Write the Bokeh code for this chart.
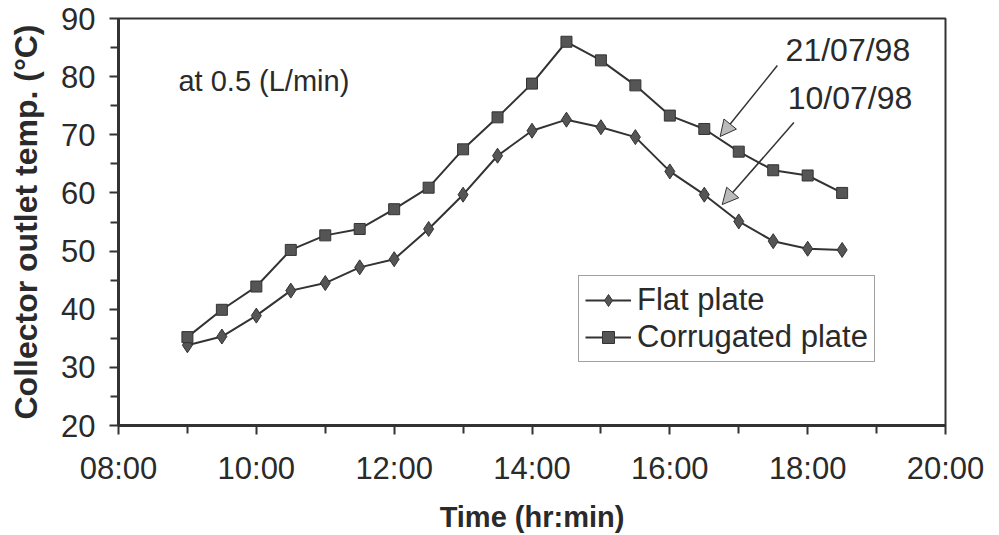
from bokeh.plotting import figure
from bokeh.models import (Range1d, FixedTicker, Legend, LegendItem, Label, Arrow,
                          NormalHead)
from bokeh.embed import file_html
from bokeh.resources import INLINE

# ---- data ----
times = [9.0, 9.5, 10.0, 10.5, 11.0, 11.5, 12.0, 12.5, 13.0, 13.5,
         14.0, 14.5, 15.0, 15.5, 16.0, 16.5, 17.0, 17.5, 18.0, 18.5]
flat_plate = [33.8, 35.3, 38.9, 43.2, 44.5, 47.2, 48.6, 53.8, 59.7, 66.4,
              70.7, 72.6, 71.3, 69.6, 63.7, 59.7, 55.1, 51.7, 50.4, 50.2]
corrugated_plate = [35.2, 39.9, 43.9, 50.2, 52.7, 53.8, 57.2, 60.9, 67.5, 73.0,
                    78.8, 86.0, 82.8, 78.5, 73.3, 71.0, 67.1, 63.9, 63.0, 60.0]
x_ticks = [8, 10, 12, 14, 16, 18, 20]
x_minor = [9, 11, 13, 15, 17, 19]
x_tick_labels = ["08:00", "10:00", "12:00", "14:00", "16:00", "18:00", "20:00"]
y_ticks = [20, 30, 40, 50, 60, 70, 80, 90]
y_minor = [25, 35, 45, 55, 65, 75, 85]

# annotation texts and positions (data units)
note_text = "at 0.5 (L/min)"
note_x, note_y = 8.87, 79.3
date_labels = ["21/07/98", "10/07/98"]
date_label_x = [17.68, 17.71]
date_label_y = [84.6, 76.4]
arrow_start = [(17.56, 81.9), (17.80, 72.1)]
arrow_end = [(16.73, 69.7), (16.76, 58.0)]

FONT = "Liberation Sans"
TXT = "#2a2a2a"
LINE = "#333333"

p = figure(width=999, height=535, output_backend="svg", toolbar_location=None,
           x_range=Range1d(8, 20), y_range=Range1d(20, 90),
           min_border_left=118, min_border_right=54,
           min_border_top=18, min_border_bottom=110)

p.xgrid.visible = False
p.ygrid.visible = False
p.outline_line_color = LINE
p.outline_line_width = 2
p.background_fill_color = "white"
p.border_fill_color = "white"

# axes
p.xaxis.ticker = FixedTicker(ticks=x_ticks, minor_ticks=x_minor)
p.xaxis.major_label_overrides = {t: l for t, l in zip(x_ticks, x_tick_labels)}
p.yaxis.ticker = FixedTicker(ticks=y_ticks, minor_ticks=y_minor)
for ax in (p.xaxis[0], p.yaxis[0]):
    ax.axis_line_color = LINE
    ax.axis_line_width = 3
    ax.major_tick_line_color = LINE
    ax.major_tick_line_width = 2
    ax.minor_tick_line_color = LINE
    ax.minor_tick_line_width = 2
    ax.major_tick_in = 0
    ax.major_tick_out = 9
    ax.minor_tick_in = 0
    ax.minor_tick_out = 8
    ax.major_label_text_font = FONT
    ax.major_label_text_font_size = "31px"
    ax.major_label_text_color = TXT
    ax.axis_label_text_font = FONT
    ax.axis_label_text_font_style = "bold"
    ax.axis_label_text_color = TXT

p.xaxis.axis_label = "Time (hr:min)"
p.xaxis.axis_label_text_font_size = "29px"
p.xaxis.major_label_standoff = 16
p.xaxis.axis_label_standoff = 12
p.yaxis.axis_label = "Collector outlet temp. (\u00b0C)"
p.yaxis.axis_label_text_font_size = "32px"
p.yaxis.major_label_standoff = 14
p.yaxis.axis_label_standoff = 14

# series
l1 = p.line(times, flat_plate, line_color=LINE, line_width=2)
m1 = p.scatter(times, flat_plate, marker="diamond", size=15,
               fill_color="#555555", line_color=LINE, line_width=1)
l2 = p.line(times, corrugated_plate, line_color=LINE, line_width=2)
m2 = p.scatter(times, corrugated_plate, marker="square", size=11,
               fill_color="#555555", line_color=LINE, line_width=1)

legend = Legend(items=[LegendItem(label="Flat plate", renderers=[l1, m1]),
                       LegendItem(label="Corrugated plate", renderers=[l2, m2])],
                location=(460, 63))
legend.label_text_font = FONT
legend.label_text_font_size = "31px"
legend.label_text_color = TXT
legend.glyph_width = 46
legend.glyph_height = 30
legend.label_height = 30
legend.label_standoff = 6
legend.spacing = 1
legend.padding = 6
legend.margin = 0
legend.border_line_color = "#444444"
legend.border_line_width = 1
legend.background_fill_alpha = 1
p.add_layout(legend)

# annotations
p.add_layout(Label(x=note_x, y=note_y, text=note_text, text_font=FONT,
                   text_font_size="29px", text_color=TXT,
                   text_baseline="middle"))
for t, x, y in zip(date_labels, date_label_x, date_label_y):
    p.add_layout(Label(x=x, y=y, text=t, text_font=FONT, text_font_size="32px",
                       text_color=TXT, text_baseline="middle"))
for (xs, ys), (xe, ye) in zip(arrow_start, arrow_end):
    p.add_layout(Arrow(x_start=xs, y_start=ys, x_end=xe, y_end=ye,
                       line_color=LINE, line_width=1.5,
                       end=NormalHead(size=16, fill_color="#bbbbbb",
                                      line_color=LINE, line_width=1)))

open("out.html", "w").write(file_html(p, INLINE))
